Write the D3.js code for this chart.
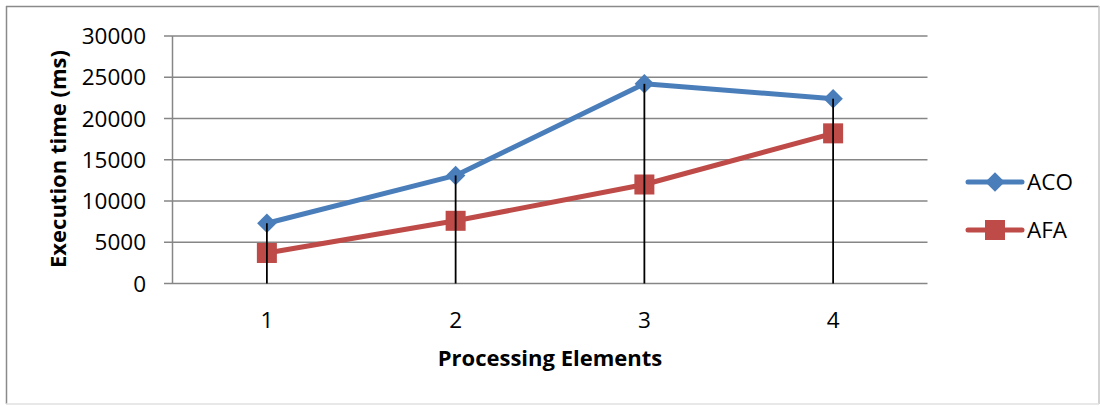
<!DOCTYPE html>
<html><head><meta charset="utf-8">
<script src="https://cdn.jsdelivr.net/npm/d3@7"></script>
<style>body{margin:0;background:#fff;}svg{display:block;}</style>
</head><body>
<script>
const categories = ["1", "2", "3", "4"];
const acoValues = [7300, 13100, 24200, 22400];
const afaValues = [3700, 7600, 12000, 18200];
const yTicks = [0, 5000, 10000, 15000, 20000, 25000, 30000];
const seriesNames = ["ACO", "AFA"];

const W = 1100, H = 406;
const font = "'Open Sans', 'Noto Sans', sans-serif";
const svg = d3.select("body").append("svg").attr("width", W).attr("height", H);

// frame
svg.append("line").attr("x1",6).attr("x2",1099).attr("y1",6.5).attr("y2",6.5).attr("stroke","#8a8a8a").attr("stroke-width",1.5);
svg.append("line").attr("x1",6.5).attr("x2",6.5).attr("y1",6).attr("y2",404).attr("stroke","#8a8a8a").attr("stroke-width",1.5);
svg.append("line").attr("x1",1099).attr("x2",1099).attr("y1",6).attr("y2",404).attr("stroke","#c4c4c4").attr("stroke-width",1.5);
svg.append("line").attr("x1",6).attr("x2",1099).attr("y1",404).attr("y2",404).attr("stroke","#e0e0e0").attr("stroke-width",1.5);

const x = d3.scaleBand().domain(categories).range([172.5, 927.5]);
const y = d3.scaleLinear().domain([0, 30000]).range([283.5, 36]);

// gridlines
const g = svg.append("g");
g.selectAll("line.grid").data(yTicks).join("line")
  .attr("x1", 164).attr("x2", 927.5)
  .attr("y1", d => y(d)).attr("y2", d => y(d))
  .attr("stroke", "#868686").attr("stroke-width", 1.5);
// y axis line
g.append("line").attr("x1",172.5).attr("x2",172.5).attr("y1",y(30000)).attr("y2",y(0)+0.5)
  .attr("stroke","#868686").attr("stroke-width",1.5);

// y tick labels
g.selectAll("text.yt").data(yTicks).join("text")
  .attr("x", 146).attr("y", d => y(d)).attr("dy", "0.36em")
  .attr("text-anchor", "end").attr("font-family", font).attr("font-size", 22.5)
  .attr("fill", "#000").text(d => d);

// x tick labels
g.selectAll("text.xt").data(categories).join("text")
  .attr("x", d => x(d) + x.bandwidth()/2).attr("y", 320).attr("dy", "0.36em")
  .attr("text-anchor", "middle").attr("font-family", font).attr("font-size", 22.5)
  .text(d => d);

// axis titles
svg.append("text").attr("transform", "translate(58,159) rotate(-90)")
  .attr("text-anchor","middle").attr("dy","0.36em").attr("font-family", font)
  .attr("font-weight","bold").attr("font-size", 22).text("Execution time (ms)");
svg.append("text").attr("x", 550).attr("y", 358).attr("dy","0.36em")
  .attr("text-anchor","middle").attr("font-family", font)
  .attr("font-weight","bold").attr("font-size", 22).text("Processing Elements");

const cx = d => x(d) + x.bandwidth()/2;
const line = d3.line().x(d => cx(d[0])).y(d => y(d[1]));
const colors = ["#4A7EBB", "#BE4B48"];
const data = [acoValues, afaValues];

data.forEach((vals, i) => {
  const pts = categories.map((c, j) => [c, vals[j]]);
  svg.append("path").attr("d", line(pts)).attr("fill","none")
    .attr("stroke", colors[i]).attr("stroke-width", 5).attr("stroke-linejoin","round");
});
// markers
const diamond = d3.symbol().type(d3.symbolSquare).size(190);
svg.selectAll("path.aco").data(categories).join("path")
  .attr("d", diamond).attr("fill", colors[0])
  .attr("transform", (c, j) => `translate(${cx(c)},${y(acoValues[j])}) rotate(45)`);
svg.selectAll("rect.afa").data(categories).join("rect")
  .attr("x", c => cx(c) - 10).attr("y", (c, j) => y(afaValues[j]) - 10)
  .attr("width", 20).attr("height", 20).attr("fill", colors[1]);

// drop lines
svg.selectAll("line.drop").data(categories).join("line")
  .attr("x1", cx).attr("x2", cx)
  .attr("y1", (c, j) => y(Math.max(acoValues[j], afaValues[j]))).attr("y2", y(0))
  .attr("stroke", "#000").attr("stroke-width", 1.8);

// legend
const leg = svg.append("g");
seriesNames.forEach((name, i) => {
  const ly = 182 + i * 48;
  leg.append("line").attr("x1", 968).attr("x2", 1022).attr("y1", ly).attr("y2", ly)
    .attr("stroke", colors[i]).attr("stroke-width", 5).attr("stroke-linecap","round");
  if (i === 0) {
    leg.append("path").attr("d", diamond).attr("fill", colors[0])
      .attr("transform", `translate(995,${ly}) rotate(45)`);
  } else {
    leg.append("rect").attr("x", 985).attr("y", ly - 10).attr("width", 20).attr("height", 20).attr("fill", colors[1]);
  }
  leg.append("text").attr("x", 1027).attr("y", ly).attr("dy","0.36em")
    .attr("font-family", font).attr("font-size", 22.5).text(name);
});
</script>
</body></html>
